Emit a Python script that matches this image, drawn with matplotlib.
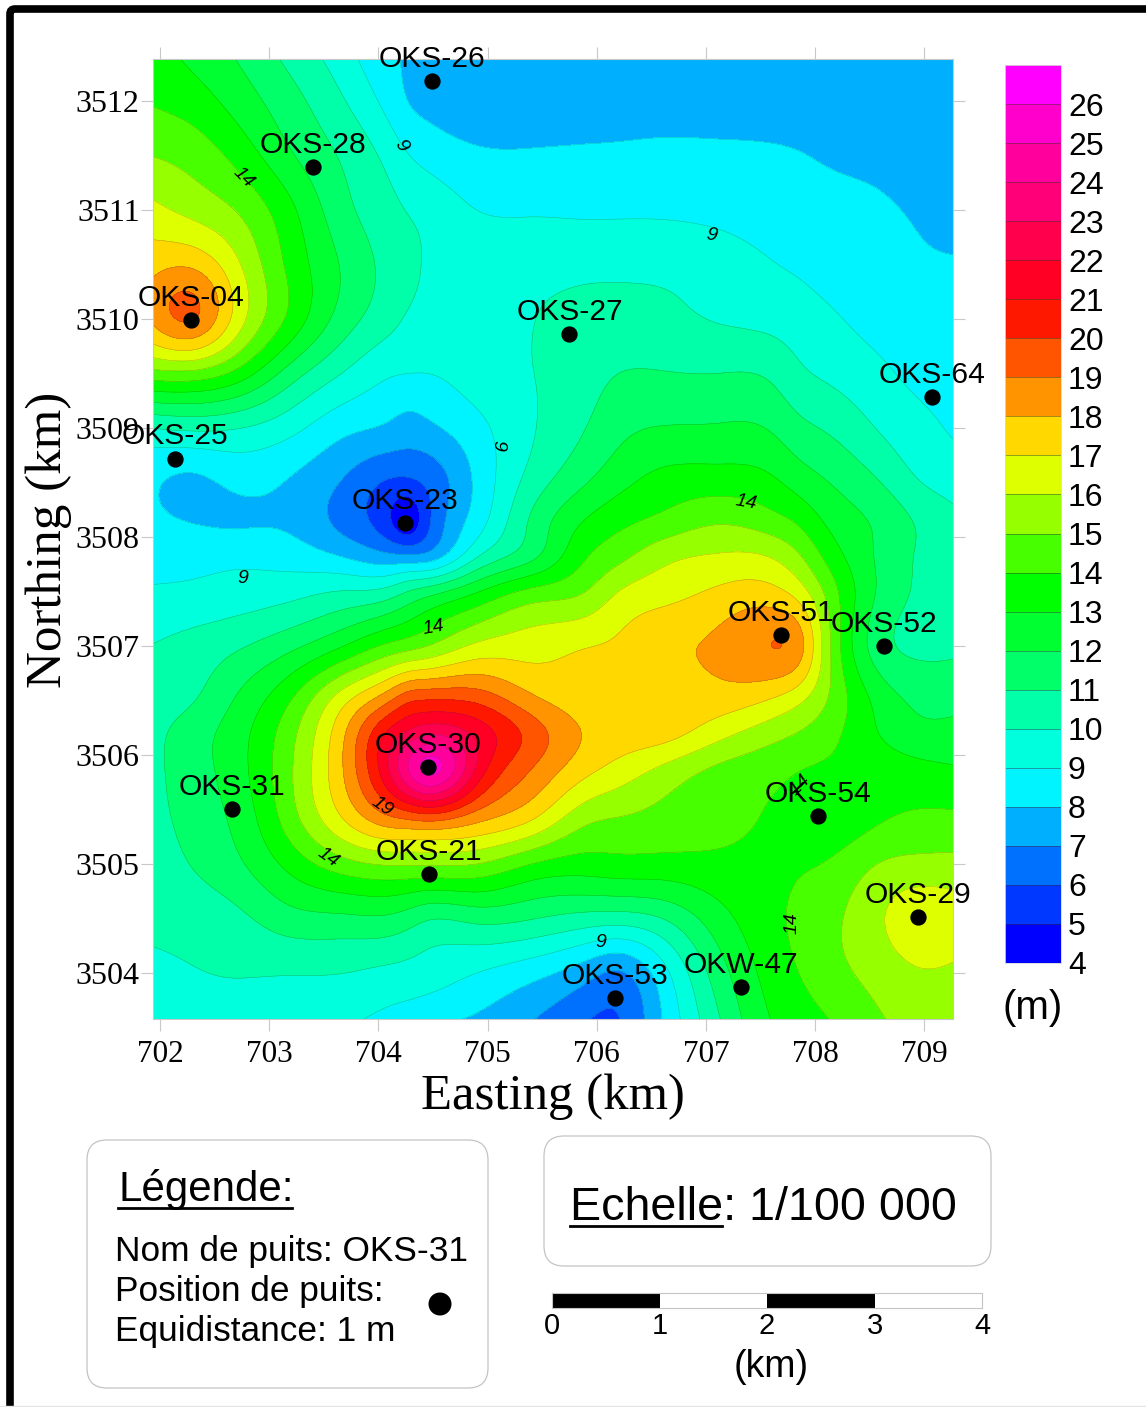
import numpy as np
import matplotlib
matplotlib.use('Agg')
import matplotlib.pyplot as plt
from matplotlib.colors import ListedColormap, BoundaryNorm
from matplotlib.patches import FancyBboxPatch, Circle

W, H = 1146, 1407
SERIF = 'Liberation Serif'
SANS = 'Liberation Sans'

# grid (km)
eastings = [701.9, 702.3, 702.7, 703.2, 703.7, 704.1, 704.27, 704.45, 704.9, 705.4,
            705.9, 706.2, 706.6, 707.1, 707.6, 707.85, 708.1, 708.6, 708.95, 709.3]
northings = [3512.4, 3512, 3511.5, 3511, 3510.5, 3510, 3509.5, 3509, 3508.5, 3508.1, 3507.85,
             3507.5, 3507, 3506.5, 3506.2, 3505.9, 3505.4, 3505, 3504.5, 3504, 3503.55]

# depth (m), one row per northing
depth = [
    [13.6, 12.75, 11.95, 10.7, 9.35, 8.15, 7.9, 7.6, 7.4, 7.3, 7.3, 7.3, 7.3, 7.3, 7.3, 7.3, 7.3, 7.3, 7.3, 7.3],
    [13.95, 13.5, 12.6, 11.35, 10.0, 8.6, 8.0, 7.75, 7.5, 7.5, 7.5, 7.45, 7.4, 7.4, 7.45, 7.45, 7.4, 7.35, 7.3, 7.25],
    [15.0, 14.6, 13.7, 12.1, 10.8, 9.65, 9.05, 8.65, 8.15, 8.1, 8.15, 8.2, 8.3, 8.25, 8.15, 8.05, 7.9, 7.75, 7.55, 7.4],
    [16.3, 15.7, 14.95, 13.2, 11.25, 10.3, 9.95, 9.7, 9.0, 8.9, 8.85, 8.85, 8.85, 8.7, 8.5, 8.45, 8.3, 8.1, 7.9, 7.7],
    [17.6, 17.8, 16.2, 13.7, 11.8, 10.65, 10.25, 9.9, 9.6, 9.6, 9.75, 9.8, 9.8, 9.6, 9.05, 8.85, 8.6, 8.3, 8.1, 8.05],
    [18.0, 19.05, 16.6, 13.7, 11.45, 10.3, 9.9, 9.7, 9.4, 9.95, 10.3, 10.3, 10.2, 9.95, 9.7, 9.5, 9.2, 8.6, 8.35, 8.3],
    [14.6, 14.7, 13.7, 11.5, 9.9, 9.1, 9.0, 9.0, 9.4, 9.97, 10.6, 11.0, 11.05, 11.0, 10.8, 10.2, 9.85, 9.2, 8.75, 8.65],
    [10.0, 10.2, 10.05, 9.3, 8.25, 7.8, 7.55, 7.75, 8.7, 9.9, 11.0, 11.7, 12.05, 12.1, 11.9, 11.3, 10.9, 9.9, 9.3, 8.85],
    [8.2, 7.8, 8.2, 7.9, 6.85, 5.85, 5.75, 6.2, 8.2, 10.4, 11.95, 12.7, 13.35, 13.55, 13.2, 12.6, 12.05, 11.0, 10.05, 9.6],
    [8.3, 8.05, 7.95, 7.85, 6.7, 5.25, 4.5, 5.8, 8.6, 11.2, 13.2, 13.85, 14.45, 15.05, 14.6, 14.0, 13.0, 11.8, 10.9, 10.2],
    [8.6, 8.6, 8.65, 8.45, 7.75, 7.0, 6.85, 7.1, 9.7, 11.6, 13.85, 14.6, 15.55, 16.0, 15.8, 15.0, 13.7, 11.8, 10.9, 10.3],
    [9.1, 9.2, 9.4, 9.65, 10.05, 10.4, 11.0, 11.5, 12.9, 14.25, 15.0, 16.0, 16.6, 17.15, 17.3, 16.5, 14.8, 11.8, 10.85, 10.45],
    [10.0, 10.35, 10.85, 11.75, 13.05, 14.25, 14.6, 15.0, 16.2, 16.55, 16.95, 17.15, 17.7, 18.2, 19.0, 18.4, 15.5, 11.4, 10.8, 10.85],
    [10.5, 10.95, 12.1, 14.0, 16.8, 18.9, 19.8, 20.05, 19.8, 18.3, 17.5, 17.4, 17.4, 17.5, 16.9, 16.2, 15.05, 12.6, 11.8, 11.7],
    [10.65, 11.5, 12.55, 14.7, 18.0, 21.25, 22.2, 22.8, 21.7, 19.6, 17.9, 17.5, 17.35, 16.4, 15.4, 14.95, 14.4, 12.95, 12.3, 12.35],
    [10.7, 11.55, 12.6, 14.9, 18.2, 22.1, 24.0, 25.3, 21.9, 19.1, 17.4, 16.75, 15.95, 14.95, 14.4, 14.1, 13.9, 13.5, 13.2, 13.0],
    [10.6, 11.35, 12.25, 14.55, 17.05, 18.6, 18.9, 19.1, 18.2, 17.0, 15.2, 14.9, 14.65, 14.3, 13.9, 13.7, 13.5, 13.95, 14.2, 14.25],
    [10.4, 11.05, 11.8, 13.35, 14.65, 15.1, 15.1, 15.1, 15.0, 14.0, 13.55, 13.65, 13.65, 13.75, 13.8, 13.9, 14.05, 15.05, 15.3, 15.3],
    [10.25, 10.4, 10.75, 11.6, 11.8, 11.8, 11.5, 11.1, 11.3, 11.05, 10.6, 10.5, 11.0, 12.55, 13.75, 14.2, 14.65, 15.9, 16.6, 16.4],
    [9.75, 9.95, 10.05, 10.05, 10.0, 9.75, 9.65, 9.5, 9.0, 8.35, 7.4, 6.9, 8.6, 11.45, 13.4, 14.0, 14.55, 15.4, 15.9, 15.8],
    [9.7, 9.65, 9.6, 9.4, 9.1, 8.7, 8.5, 8.25, 7.8, 7.0, 6.0, 5.95, 8.0, 10.8, 13.0, 13.45, 13.9, 14.9, 15.3, 15.4],
]

levels = list(range(4, 28))
band_colors = ['#0000FF', '#0038FF', '#0070FF', '#00B0FF', '#00F4FF', '#00FFDC',
               '#00FFA8', '#00FF68', '#00FF30', '#00FF00', '#48FF00', '#96FF00',
               '#DEFF00', '#FFD800', '#FF9400', '#FF5400', '#FF1800', '#FF0024',
               '#FF004C', '#FF0078', '#FF009C', '#FF00CC', '#FF00FF']

# wells
well_names = ['OKS-26', 'OKS-28', 'OKS-04', 'OKS-27', 'OKS-64', 'OKS-25', 'OKS-23', 'OKS-51',
              'OKS-52', 'OKS-30', 'OKS-31', 'OKS-54', 'OKS-21', 'OKS-29', 'OKS-53', 'OKW-47']
well_x = [704.49, 703.40, 702.28, 705.75, 709.07, 702.14, 704.24, 707.69,
          708.63, 704.45, 702.66, 708.03, 704.46, 708.94, 706.17, 707.32]
well_y = [3512.18, 3511.39, 3509.99, 3509.86, 3509.28, 3508.72, 3508.13, 3507.10,
          3507.00, 3505.89, 3505.50, 3505.44, 3504.91, 3504.51, 3503.77, 3503.87]

# contour labels on the map
clabel_text = ['14', '9', '9', '9', '14', '9', '14', '19', '14', '14', '14', '9']
clabel_x = [702.76, 704.21, 707.05, 705.09, 707.37, 702.76, 704.50, 704.03, 703.54, 707.86, 707.79, 706.04]
clabel_y = [3511.30, 3511.59, 3510.77, 3508.84, 3508.32, 3507.62, 3507.17, 3505.53, 3505.06, 3505.72, 3504.46, 3504.28]
clabel_rot = [-45, -55, -10, -90, -10, 0, 10, -35, -35, 45, 90, 0]

xticks = list(range(702, 710))
yticks = list(range(3504, 3513))
scale_km = [0, 1, 2, 3, 4]


def spline(x, y, xn):
    # natural cubic spline along the first axis of y
    x = np.asarray(x, float)
    h = np.diff(x)
    n = len(x)
    A = np.zeros((n, n))
    A[0, 0] = A[-1, -1] = 1
    b = np.zeros_like(y)
    for i in range(1, n - 1):
        A[i, i - 1:i + 2] = h[i - 1], 2 * (h[i - 1] + h[i]), h[i]
        b[i] = 6 * ((y[i + 1] - y[i]) / h[i] - (y[i] - y[i - 1]) / h[i - 1])
    m = np.linalg.solve(A, b)
    k = np.clip(np.searchsorted(x, xn) - 1, 0, n - 2)
    t1 = (x[k + 1] - xn)[:, None]
    t0 = (xn - x[k])[:, None]
    hk = h[k][:, None]
    return (m[k] * t1**3 + m[k + 1] * t0**3) / (6 * hk) \
        + (y[k] - m[k] * hk**2 / 6) * t1 / hk + (y[k + 1] - m[k + 1] * hk**2 / 6) * t0 / hk


fig = plt.figure(figsize=(W / 100, H / 100), dpi=100)

# page layer in pixels, for frame and boxes
bg = fig.add_axes([0, 0, 1, 1])
bg.set_xlim(0, W)
bg.set_ylim(H, 0)
bg.axis('off')
bg.add_patch(FancyBboxPatch((10, 9), 1300, 1500, boxstyle='round,pad=0,rounding_size=5',
                            fc='white', ec='black', lw=5.5))
bg.plot([0, W], [1405.5, 1405.5], color='#e4e4e4', lw=1)
bg.add_patch(FancyBboxPatch((87, 1140), 401, 248, boxstyle='round,pad=0,rounding_size=20',
                            fc='white', ec='#c4c4c4', lw=0.9))
bg.add_patch(FancyBboxPatch((544, 1136), 447, 130, boxstyle='round,pad=0,rounding_size=20',
                            fc='white', ec='#c4c4c4', lw=0.9))

# map
ax = fig.add_axes([153 / W, 1 - 1019 / H, 800 / W, 960 / H])
ex = np.linspace(eastings[0], eastings[-1], 500)
ny = np.linspace(northings[-1], northings[0], 600)
z = np.array(depth)
# northings run downward in the table, the spline wants them rising
zf = spline(northings[::-1], z[::-1], ny)
zf = spline(eastings, zf.T, ex).T
cmap = ListedColormap(band_colors)
norm = BoundaryNorm(levels, cmap.N)
ax.contourf(ex, ny, zf, levels=levels, cmap=cmap, norm=norm, extend='both')
ax.contour(ex, ny, zf, levels=levels, colors='#303030', linewidths=0.35, alpha=0.35)
ax.set_xlim(701.936, 709.262)
ax.set_ylim(3503.578, 3512.385)
ax.set_xticks(xticks)
ax.set_yticks(yticks)
ax.tick_params(top=True, right=True, direction='out', length=8.5, width=0.8, color='#c8c8c8', pad=6.5)
for s in ax.spines.values():
    s.set_color('#c8c8c8')
    s.set_linewidth(0.8)
for t in ax.get_xticklabels():
    t.set_family(SERIF)
    t.set_size(22.5)
for t in ax.get_yticklabels():
    t.set_family(SERIF)
    t.set_size(23)
ax.tick_params(axis='y', pad=1)

ax.scatter(well_x, well_y, s=115, c='black', zorder=5, clip_on=False)
for name, x, y in zip(well_names, well_x, well_y):
    ax.annotate(name, (x, y), xytext=(0, 16), textcoords='offset points', ha='center', va='center',
                family=SANS, fontsize=21.6, color='black', zorder=6, annotation_clip=False)
for s, x, y, r in zip(clabel_text, clabel_x, clabel_y, clabel_rot):
    ax.text(x, y, s, rotation=r, rotation_mode='anchor', ha='center', va='center', family=SANS,
            style='italic', fontsize=14, color='black', zorder=4)

# axis titles sit on the page layer
bg.text(553, 1097, 'Easting (km)', family=SERIF, fontsize=36.5, ha='center', va='center')
bg.text(49, 540, 'Northing (km)', family=SERIF, fontsize=36.7, ha='center', va='center', rotation=90)

# colour bar
cax = fig.add_axes([1005 / W, 1 - 963 / H, 56 / W, 898 / H])
cax.pcolormesh([0, 1], levels, np.array(levels[:-1]).reshape(-1, 1) + 0.5, cmap=cmap, norm=norm,
               edgecolors='face', linewidth=0)
cax.hlines(levels[1:-1], 0, 1, colors='#303030', linewidths=0.7, alpha=0.45)
cax.set_xticks([])
cax.set_yticks(levels[:-1])
cax.yaxis.tick_right()
cax.tick_params(axis='y', length=0, pad=5)
for s in cax.spines.values():
    s.set_color('#d8d8d8')
    s.set_linewidth(0.6)
for t in cax.get_yticklabels():
    t.set_family(SANS)
    t.set_size(23)
bg.text(1033, 1008, '(m)', family=SANS, fontsize=29, ha='center', va='center')

# legend box
bg.text(118, 1190, 'Légende:', family=SANS, fontsize=30.3, va='center', ha='left')
bg.plot([118, 292], [1208, 1208], color='black', lw=2)
bg.text(115, 1252, 'Nom de puits: OKS-31', family=SANS, fontsize=25.4, va='center', ha='left')
bg.text(115, 1292, 'Position de puits:', family=SANS, fontsize=25.4, va='center', ha='left')
bg.text(115, 1332, 'Equidistance: 1 m', family=SANS, fontsize=25.4, va='center', ha='left')
bg.add_patch(Circle((440, 1304), 11.5, fc='black', ec='none'))

# scale box
bg.text(570, 1208, 'Echelle: 1/100 000', family=SANS, fontsize=33.6, va='center', ha='left')
bg.plot([570, 722], [1226, 1226], color='black', lw=2)

# scale bar
sax = fig.add_axes([552 / W, 1 - 1308 / H, 430 / W, 15 / H])
sax.barh(0.5, np.diff(scale_km), left=scale_km[:-1], height=1, color=['black', 'white', 'black', 'white'])
sax.set_xlim(scale_km[0], scale_km[-1])
sax.set_ylim(0, 1)
sax.set_yticks([])
sax.set_xticks(scale_km)
sax.tick_params(axis='x', length=0, pad=3)
for s in sax.spines.values():
    s.set_color('#c4c4c4')
    s.set_linewidth(0.8)
for t in sax.get_xticklabels():
    t.set_family(SANS)
    t.set_size(21)
bg.text(771, 1367, '(km)', family=SANS, fontsize=27, ha='center', va='center')

fig.savefig('out.png', dpi=100)
